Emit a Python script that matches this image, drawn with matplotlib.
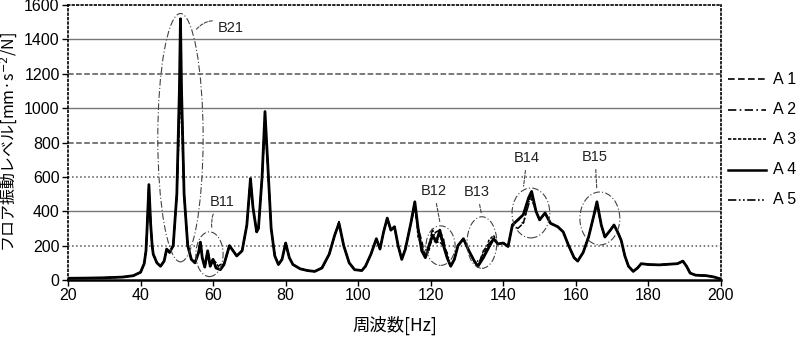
import matplotlib
matplotlib.use("Agg")
import matplotlib.pyplot as plt
from matplotlib.patches import Ellipse
from matplotlib.lines import Line2D

plt.rcParams['font.family'] = ['Liberation Sans', 'Noto Sans CJK JP', 'DejaVu Sans']

# ---------------- data ----------------
FREQ = [20, 25, 30, 35, 38, 40, 41, 41.5, 41.8, 42.3, 42.8, 43.2, 43.5, 44.5, 45.5, 46.5, 47.2, 48, 49, 50,
        50.7, 51.0, 51.3, 52, 53, 54, 55, 56, 56.5, 57, 57.7, 58.5, 59.2, 60, 60.8, 62, 63, 64.5,
        65.5, 66.5, 68, 69.3, 70.3, 71, 72, 72.5, 73.5, 74.3, 75, 76, 77, 78, 79, 80, 81, 82, 84,
        86, 88, 90, 92, 93.5, 94.7, 96, 97.5, 99, 101, 102, 103.5, 105, 106, 107, 108, 109, 110,
        111, 112, 113, 114.5, 115.6, 116.5, 117.5, 118.5, 119.5, 120.5, 121.5, 122.5, 123.5,
        124.5, 125.5, 126.5, 127.5, 129, 130.5, 132, 133, 134.5, 136, 137.3, 138.5, 140, 141.3,
        142.5, 144, 145.5, 147, 147.8, 149, 150, 151.5, 153, 155, 156.5, 158, 159.5, 160.5, 162,
        163.5, 165, 165.8, 167, 168, 169.5, 170.5, 171.5, 172.5, 173.5, 174.5, 175.8, 177, 178,
        180, 183, 186, 188, 189.5, 190.5, 191.5, 193, 196, 198, 200]

A4 = [10, 11, 13, 17, 25, 45, 95, 170, 300, 555, 320, 200, 150, 100, 80, 110, 180, 160, 200, 500,
      1100, 1520, 1100, 500, 200, 120, 100, 160, 220, 130, 75, 170, 80, 120, 70, 60, 90, 200,
      170, 140, 170, 320, 590, 420, 280, 300, 600, 980, 700, 300, 140, 90, 120, 215, 130, 90, 65,
      55, 50, 70, 150, 260, 330, 200, 100, 60, 55, 80, 150, 240, 180, 280, 360, 290, 310,
      200, 120, 180, 330, 455, 300, 170, 130, 200, 260, 220, 290, 200,
      130, 80, 120, 200, 240, 170, 110, 80, 130, 190, 240, 210, 215, 195,
      320, 350, 380, 480, 515, 400, 350, 390, 330, 310, 280, 200, 130, 110, 160,
      250, 380, 455, 320, 250, 290, 320, 280, 230, 140, 80, 50, 70, 95,
      90, 88, 92, 95, 110, 80, 40, 28, 25, 18, 5]

A1_DIFF = {50.7: 950, 51.0: 1200, 51.3: 950, 59.2: 110, 74.3: 930, 94.7: 340, 115.6: 430,
           117.5: 230, 120.5: 230, 122.5: 260, 134.5: 170, 136: 210, 147.8: 490}
A2_DIFF = {51.0: 1100, 74.3: 950, 118.5: 170, 121.5: 280, 123.5: 240, 133: 110,
           145.5: 330, 147: 440, 165.8: 430}
A3_DIFF = {50.7: 900, 51.0: 1000, 58.5: 150, 60.8: 100, 74.3: 900, 116.5: 250, 117.5: 200,
           119.5: 170, 122.5: 220, 136: 230, 137.3: 260, 147.8: 470}
A5_DIFF = {51.0: 1300, 62: 90, 74.3: 960, 115.6: 420, 120.5: 300, 124.5: 160, 134.5: 160,
           144: 300, 145.5: 330, 147: 450}

A1 = [A1_DIFF.get(f, v) for f, v in zip(FREQ, A4)]
A2 = [A2_DIFF.get(f, v) for f, v in zip(FREQ, A4)]
A3 = [A3_DIFF.get(f, v) for f, v in zip(FREQ, A4)]
A5 = [A5_DIFF.get(f, v) for f, v in zip(FREQ, A4)]

LABELS = ['A 1', 'A 2', 'A 3', 'A 4', 'A 5']
XTICKS = [20, 40, 60, 80, 100, 120, 140, 160, 180, 200]
YTICKS = [0, 200, 400, 600, 800, 1000, 1200, 1400, 1600]

# ---------------- figure ----------------
fig = plt.figure(figsize=(8.0, 3.41), dpi=100)
ax = fig.add_axes([68 / 800, 1 - 280 / 341, (721 - 68) / 800, (280 - 5) / 341])

styles = {
    'A 1': dict(ls=(0, (4, 2)), lw=1.1),
    'A 2': dict(ls=(0, (5, 2, 1, 2)), lw=1.1),
    'A 3': dict(ls=(0, (2, 1)), lw=1.1),
    'A 4': dict(ls='-', lw=2.0),
    'A 5': dict(ls=(0, (5, 1.5, 1, 1.5, 1, 1.5)), lw=1.1),
}
series = {'A 1': A1, 'A 2': A2, 'A 3': A3, 'A 5': A5, 'A 4': A4}
for name, vals in series.items():
    ax.plot(FREQ, vals, color='black', **styles[name], zorder=3 if name == 'A 4' else 2)

# grid lines (mixed styles as in the scan)
grid_styles = {200: ':', 400: '-', 600: ':', 800: '--', 1000: '-', 1200: '--', 1400: '-'}
for yv, gls in grid_styles.items():
    ax.axhline(yv, color='#555555' if gls != '-' else '#777777', lw=1.0 if gls == '-' else 1.1,
               ls=gls, zorder=1)

ax.set_xlim(20, 200)
ax.set_ylim(0, 1600)
ax.set_xticks(XTICKS)
ax.set_yticks(YTICKS)
ax.tick_params(axis='both', labelsize=11.5, direction='out', length=4, width=1, pad=2)
for side in ['top', 'right', 'left']:
    ax.spines[side].set_linestyle(':')
    ax.spines[side].set_linewidth(1.2)
ax.spines['bottom'].set_linewidth(1.8)

ax.set_ylabel('フロア振動レベル[mm·s$^{-2}$/N]', family=['Noto Sans CJK JP', 'DejaVu Sans'],
              fontsize=11.5, labelpad=3)
ax.set_xlabel('周波数[Hz]', family=['Noto Sans CJK JP', 'DejaVu Sans'], fontsize=12.5, labelpad=9)

# ellipses / annotations
ell_kw = dict(fill=False, ec='#444444', lw=0.8, ls=(0, (6, 2, 1, 2)), zorder=4)
ax.add_patch(Ellipse((51, 828), 12.5, 1445, **ell_kw))
ax.add_patch(Ellipse((59.0, 150), 7.5, 260, **ell_kw))
ax.add_patch(Ellipse((122.7, 200), 8.0, 230, **ell_kw))
ax.add_patch(Ellipse((134.1, 218), 8.2, 300, **ell_kw))
ax.add_patch(Ellipse((147.6, 390), 10.4, 290, **ell_kw))
ax.add_patch(Ellipse((166.6, 358), 11.0, 308, **ell_kw))

lead = dict(arrowstyle='-', color='#444444', lw=0.8, ls=(0, (3, 1.5)))
txt_kw = dict(fontsize=10.5, color='#222222')
ax.annotate('B21', xy=(54.6, 1440), xytext=(61.3, 1466), va='center', ha='left',
            arrowprops=dict(connectionstyle='arc3,rad=0.5', **lead), **txt_kw)
ax.annotate('B11', xy=(59.8, 285), xytext=(62.5, 455), va='center', ha='center',
            arrowprops=dict(connectionstyle='arc3,rad=0.3', **lead), **txt_kw)
ax.annotate('B12', xy=(122.7, 315), xytext=(120.9, 518), va='center', ha='center',
            arrowprops=dict(connectionstyle='arc3,rad=0', **lead), **txt_kw)
ax.annotate('B13', xy=(134.1, 368), xytext=(132.8, 512), va='center', ha='center',
            arrowprops=dict(connectionstyle='arc3,rad=0', **lead), **txt_kw)
ax.annotate('B14', xy=(145.5, 530), xytext=(146.5, 710), va='center', ha='center',
            arrowprops=dict(connectionstyle='arc3,rad=0', **lead), **txt_kw)
ax.annotate('B15', xy=(165.8, 512), xytext=(165.3, 716), va='center', ha='center',
            arrowprops=dict(connectionstyle='arc3,rad=0', **lead), **txt_kw)

# legend outside on the right
rows_y = [79, 110, 139, 170, 200]
for name, ypx in zip(LABELS, rows_y):
    fy = 1 - ypx / 341
    st = styles[name]
    fig.add_artist(Line2D([728 / 800, 766 / 800], [fy, fy], color='black',
                          ls=st['ls'], lw=1.8 if name == 'A 4' else 1.2))
    fig.text(773 / 800, fy, name, fontsize=11.5, va='center', ha='left')

fig.savefig('out.png', dpi=100)
